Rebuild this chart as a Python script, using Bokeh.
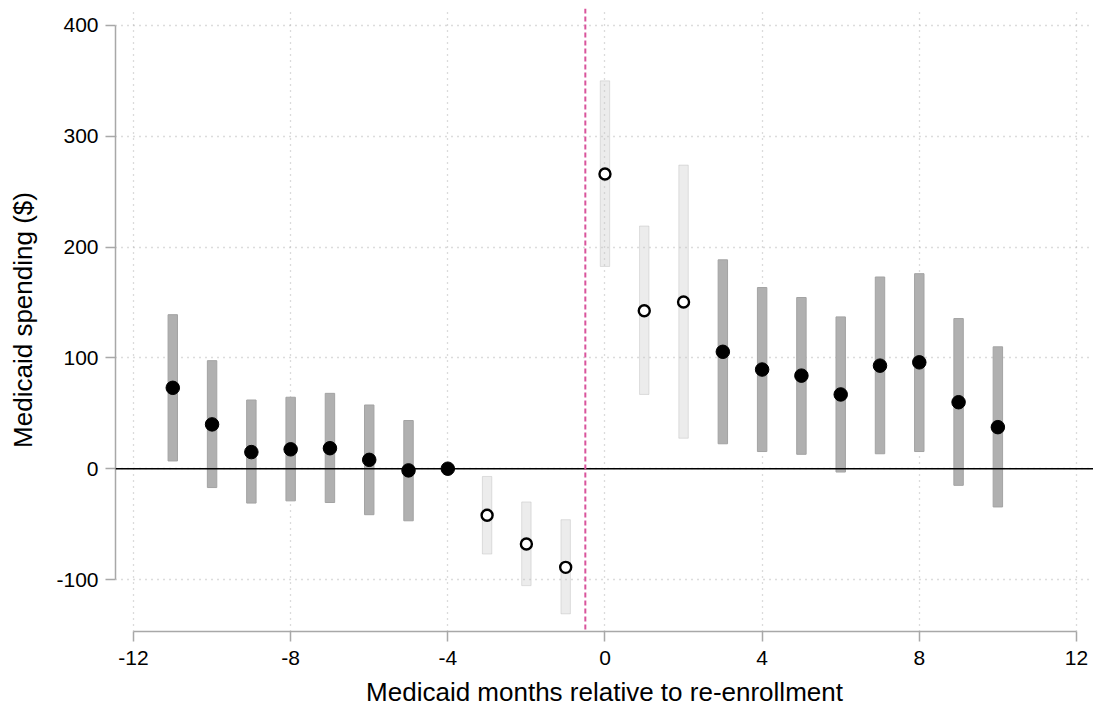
from bokeh.plotting import figure
from bokeh.models import ColumnDataSource, Span, FixedTicker, Range1d, CustomJSTickFormatter
from bokeh.embed import file_html
from bokeh.resources import INLINE

# Event-study estimates: Medicaid spending by month relative to re-enrollment
months    = [-11, -10, -9, -8, -7, -6, -5, -4, -3, -2, -1, 0, 1, 2, 3, 4, 5, 6, 7, 8, 9, 10]
estimate  = [73, 40, 15, 17.5, 18.5, 8, -1.5, 0, -42, -68, -89, 266, 142.5, 150.5, 105.5, 89.5, 84, 67, 93, 96, 60, 37.5]
ci_low    = [7, -17, -31, -29, -30.5, -41.5, -47, None, -77, -105.5, -131, 182.5, 67, 27.5, 22.5, 15.5, 13, -3, 13.5, 15.5, -15, -34.5]
ci_high   = [139, 97.5, 62, 64.5, 68, 57.5, 43.5, None, -7, -30, -46, 350, 219, 274, 188.5, 163.5, 154.5, 137, 173, 176, 135.5, 110]
# transition months drawn in a lighter style
transition = [-3, -2, -1, 0, 1, 2]
reference_month = -4

x_ticks = [-12, -8, -4, 0, 4, 8, 12]
y_ticks = [-100, 0, 100, 200, 300, 400]

FONT = "Liberation Sans"


def subset(keep):
    d = dict(x=[], est=[], lo=[], hi=[])
    for m, e, lo, hi in zip(months, estimate, ci_low, ci_high):
        if keep(m):
            d["x"].append(m)
            d["est"].append(e)
            d["lo"].append(lo)
            d["hi"].append(hi)
    return ColumnDataSource(d)


main_src = subset(lambda m: m not in transition and m != reference_month)
trans_src = subset(lambda m: m in transition)
ref_src = subset(lambda m: m == reference_month)

p = figure(width=1093, height=711, output_backend="svg", toolbar_location=None,
           x_range=Range1d(-12.458, 12.434), y_range=Range1d(-146.9, 415.3),
           min_border_left=115, min_border_right=0, min_border_top=8, min_border_bottom=80)
p.outline_line_color = None
p.background_fill_color = "white"

# dotted grid
for g in (p.xgrid, p.ygrid):
    g.grid_line_color = "#b8b8b8"
    g.grid_line_dash = "1 5"
    g.grid_line_width = 1.3
p.xaxis.ticker = FixedTicker(ticks=x_ticks)
p.yaxis.ticker = FixedTicker(ticks=y_ticks)

# reference lines
p.add_layout(Span(location=0, dimension="width", line_color="black", line_width=1.5))
p.add_layout(Span(location=-0.5, dimension="height", line_color="#d9559c",
                  line_width=2, line_dash="5 3"))

# confidence intervals
p.vbar(x="x", width=0.24, bottom="lo", top="hi", source=main_src,
       fill_color="#b0b0b0", line_color="#a3a3a3", line_width=1)
p.vbar(x="x", width=0.24, bottom="lo", top="hi", source=trans_src,
       fill_color="#c4c4c4", fill_alpha=0.33, line_color="#b0b0b0", line_alpha=0.35, line_width=1)

# point estimates
p.scatter(x="x", y="est", source=main_src, size=13.5, fill_color="black", line_color="black")
p.scatter(x="x", y="est", source=ref_src, size=13.5, fill_color="black", line_color="black")
p.scatter(x="x", y="est", source=trans_src, size=11, fill_color="white",
          line_color="black", line_width=2.4)

# axes
hyphen_fmt = CustomJSTickFormatter(code="return tick.toString();")
p.xaxis.bounds = (-12, 12)
p.yaxis.bounds = (-100, 400)
p.xaxis.axis_label = "Medicaid months relative to re-enrollment"
p.yaxis.axis_label = "Medicaid spending ($)"
for ax in (p.xaxis, p.yaxis):
    ax.formatter = hyphen_fmt
    ax.axis_line_color = "#a8a8a8"
    ax.axis_line_width = 1.5
    ax.major_tick_line_color = "#a8a8a8"
    ax.major_tick_line_width = 1.5
    ax.major_tick_out = 10
    ax.major_tick_in = 0
    ax.minor_tick_line_color = None
    ax.major_label_text_font = FONT
    ax.major_label_text_font_size = "21px"
    ax.major_label_text_color = "black"
    ax.axis_label_text_font = FONT
    ax.axis_label_text_font_size = "26px"
    ax.axis_label_text_font_style = "normal"
    ax.axis_label_text_color = "black"
    ax.major_label_standoff = 7
p.xaxis.major_label_standoff = 9
p.yaxis.axis_label_standoff = 15
p.xaxis.axis_label_standoff = 9

open("out.html", "w").write(file_html(p, INLINE))
